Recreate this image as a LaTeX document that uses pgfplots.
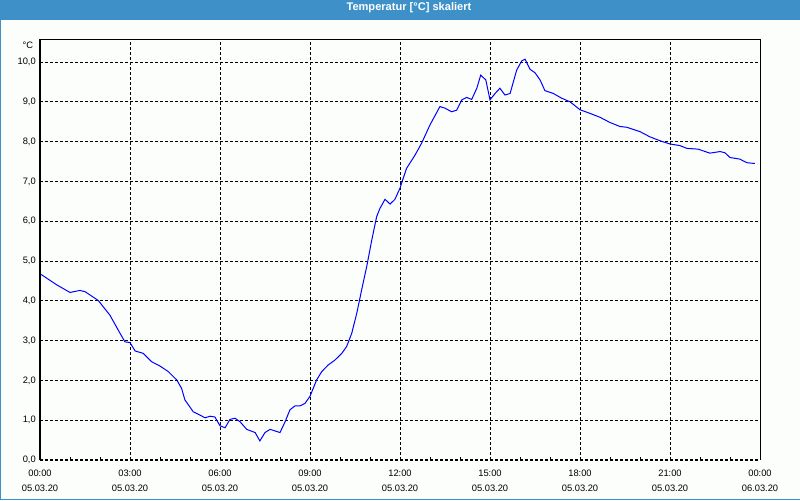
\documentclass[border=0pt]{standalone}
\usepackage{fontspec}
\setmainfont{Liberation Sans}
\usepackage{pgfplots}
\pgfplotsset{compat=1.18}
\definecolor{titleblue}{RGB}{61,145,200}
\definecolor{bgcol}{RGB}{252,254,252}
\begin{document}
\begin{tikzpicture}
\useasboundingbox (0,0) rectangle (600pt,375pt);
\fill[bgcol] (0,0) rectangle (600pt,375pt);
\fill[titleblue] (0,360pt) rectangle (600pt,375pt);
\fill[titleblue] (0,0) rectangle (0.9pt,375pt);
\fill[titleblue] (0,0) rectangle (600pt,1.1pt);
\node[anchor=base, text=white, inner sep=0pt, font=\fontsize{8.3}{10}\selectfont\bfseries] at (306.7pt,366.9pt) {Temperatur [°C] skaliert};
\begin{axis}[
  at={(30pt,30pt)}, anchor=south west,
  scale only axis, width=540pt, height=315pt,
  xmin=0, xmax=24, ymin=0, ymax=10.553,
  axis line style={draw=none},
  xtick={0,3,6,9,12,15,18,21,24},
  xticklabels={{00:00\\05.03.20},{03:00\\05.03.20},{06:00\\05.03.20},{09:00\\05.03.20},{12:00\\05.03.20},{15:00\\05.03.20},{18:00\\05.03.20},{21:00\\05.03.20},{00:00\\06.03.20}},
  minor xtick={1,2,4,5,7,8,10,11,13,14,16,17,19,20,22,23},
  xtick pos=bottom, ytick pos=left,
  ytick={0,1,2,3,4,5,6,7,8,9,10},
  grid=major,
  major grid style={black, line width=0.75pt, dash pattern=on 2.25pt off 1.5pt},
  tick align=inside,
  major tick length=0pt,
  minor tick length=2.25pt,
  minor tick style={black, line width=0.75pt},
  xticklabel style={font=\fontsize{7}{11.25}\selectfont, align=center, inner sep=0pt, yshift=-7.5pt},
  yticklabel style={font=\fontsize{7}{9}\selectfont, inner sep=0pt, xshift=-3pt,
    /pgf/number format/.cd, fixed, fixed zerofill, precision=1, use comma, assume math mode=true},
  clip=false,
]
\addplot[color={rgb,255:red,0;green,0;blue,255}, line width=0.75pt] coordinates {
(0,4.68) (0.56,4.40) (1.0,4.21) (1.33,4.26) (1.5,4.23) (1.94,4.01) (2.33,3.64) (2.67,3.18)
(2.83,2.97) (3.0,2.95) (3.17,2.74) (3.44,2.68) (3.72,2.47) (4.0,2.36) (4.28,2.22) (4.56,2.01)
(4.72,1.80) (4.83,1.51) (5.11,1.21) (5.33,1.13) (5.5,1.06) (5.67,1.10) (5.83,1.08) (6.0,0.86)
(6.17,0.81) (6.33,1.02) (6.5,1.05) (6.67,0.96) (6.89,0.77) (7.17,0.69) (7.33,0.48) (7.5,0.69)
(7.67,0.77) (8.0,0.69) (8.17,0.96) (8.33,1.26) (8.5,1.36) (8.67,1.36) (8.83,1.42) (9.0,1.6)
(9.22,2.01) (9.39,2.22) (9.61,2.39) (9.83,2.51) (10.06,2.68) (10.22,2.85) (10.39,3.18) (10.56,3.69)
(10.72,4.27) (10.89,4.86) (11.06,5.53) (11.22,6.11) (11.33,6.32) (11.5,6.55) (11.67,6.43) (11.83,6.55)
(12.0,6.83) (12.09,7.04) (12.22,7.33) (12.5,7.66) (12.72,7.96) (13.0,8.42) (13.33,8.88) (13.5,8.84)
(13.72,8.75) (13.89,8.79) (14.06,9.05) (14.22,9.11) (14.39,9.06) (14.56,9.34) (14.69,9.67) (14.86,9.55)
(15.0,9.05) (15.17,9.21) (15.33,9.34) (15.5,9.17) (15.67,9.21) (15.89,9.80) (16.06,10.03) (16.17,10.07)
(16.33,9.82) (16.5,9.73) (16.67,9.55) (16.83,9.28) (17.11,9.21) (17.39,9.09) (17.67,9.00) (18.0,8.80)
(18.33,8.71) (18.67,8.61) (19.0,8.48) (19.33,8.38) (19.56,8.36) (20.0,8.25) (20.33,8.12) (20.67,8.02)
(21.0,7.94) (21.33,7.90) (21.56,7.83) (21.94,7.81) (22.33,7.71) (22.67,7.75) (22.83,7.72) (23.0,7.60)
(23.33,7.56) (23.56,7.47) (23.83,7.45)
};
\draw[black, line width=0.75pt] (rel axis cs:0,0) -- (rel axis cs:0,1) -- (rel axis cs:1,1) -- (rel axis cs:1,0);
\node[anchor=north east, inner sep=0pt, font=\fontsize{7}{9}\selectfont, xshift=-5pt, yshift=-1.3pt] at (rel axis cs:0,1) {°C};
\end{axis}
\end{tikzpicture}
\end{document}
